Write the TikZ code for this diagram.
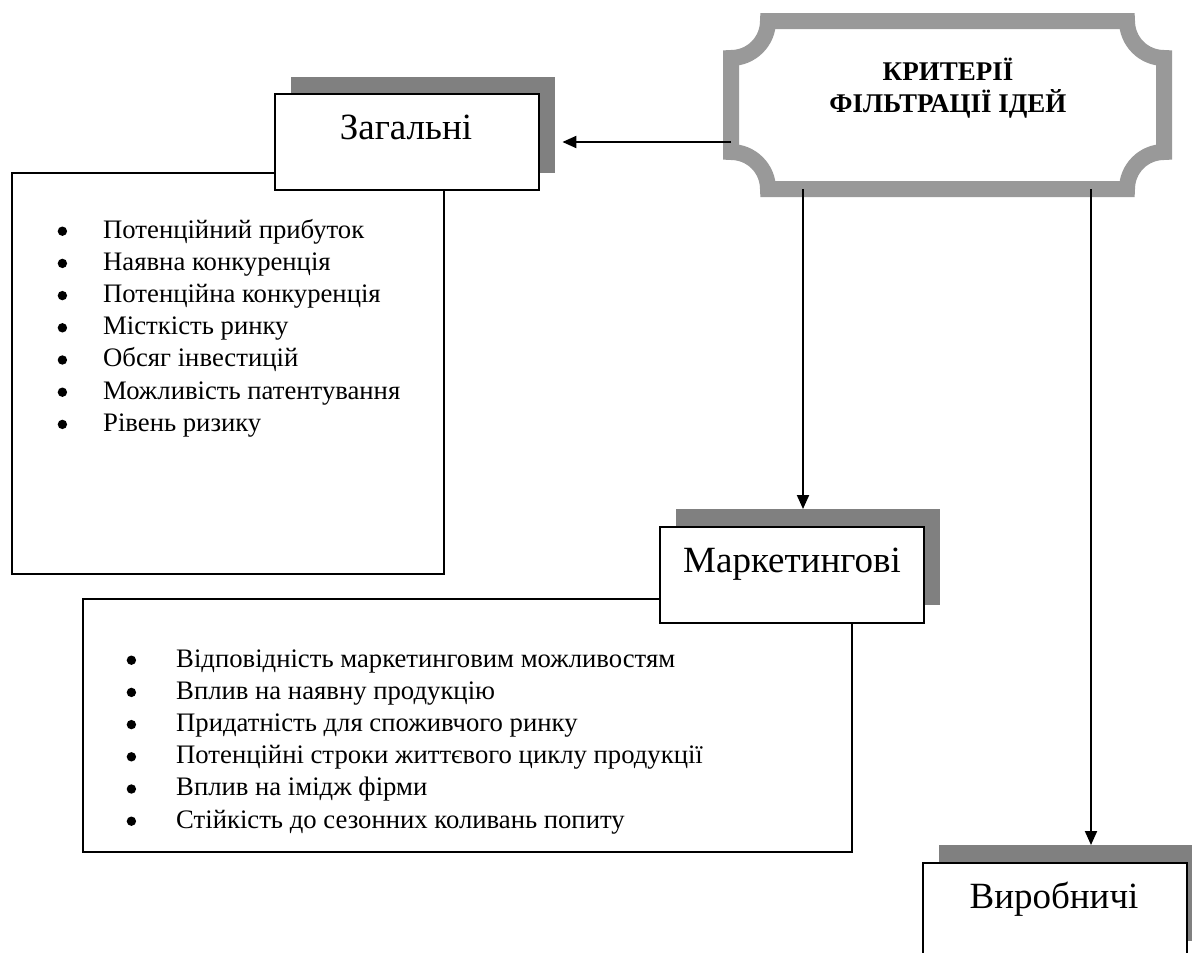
\documentclass[tikz,border=0pt]{standalone}
\usepackage{fontspec}
\setmainfont{Liberation Serif}
\usetikzlibrary{arrows.meta}
% round list bullet, centred a little above the baseline
\newcommand{\blt}{\begin{tikzpicture}[baseline=0pt,x=1pt,y=1pt]\fill (4.5,6.8) circle[radius=4.7];\useasboundingbox (0,0) rectangle (9,1);\end{tikzpicture}}
\begin{document}
\begin{tikzpicture}[x=1pt,y=-1pt,
  box/.style={draw=black,line width=2pt,fill=white,minimum width=264pt,minimum height=96pt,inner sep=0pt,anchor=north west},
  shd/.style={fill=black!50,draw=none,minimum width=264pt,minimum height=96pt,inner sep=0pt,anchor=north west},
  listbox/.style={draw=black,line width=2pt,fill=white,inner sep=0pt,anchor=north west},
  heading/.style={font=\fontsize{37}{40}\selectfont,anchor=base,inner sep=0pt},
  items/.style={font=\fontsize{26.7}{32.2}\selectfont,anchor=base west,inner sep=0pt},
  arr/.style={line width=2pt,-{Triangle[length=14pt,width=12pt]}}]
\useasboundingbox (0,0) rectangle (1192,953);
\clip (0,0) rectangle (1192,953);

% list boxes (drawn first, the heading boxes sit on top of them)
\node[listbox,minimum width=432pt,minimum height=401pt] (genlist) at (11,172) {};
\node[listbox,minimum width=769pt,minimum height=253pt] (mktlist) at (82,598) {};

% shadows
\node[shd] (genshd)  at (291,77)  {};
\node[shd] (mktshd)  at (676,509) {};
\node[shd] (prodshd) at (939,845) {};

% heading boxes
\node[box] (gen)  at (274,93)  {};
\node[box] (mkt)  at (659,526) {};
\node[box,minimum height=140pt] (prod) at (922,862) {};

\node[heading] (genlbl)  at (406,139)  {Загальні};
\node[heading] (mktlbl)  at (792,572)  {Маркетингові};
\node[heading] (prodlbl) at (1054,908) {Виробничі};

% criteria plaque
\node[minimum width=433pt,minimum height=168pt,inner sep=0pt] (crit) at (947.5,105) {};
\draw[line width=16pt,draw=black!40,fill=white]
  (768,21) -- (1127,21) arc[start angle=180,end angle=90,radius=37]
  -- (1164,152) arc[start angle=270,end angle=180,radius=37]
  -- (768,189) arc[start angle=0,end angle=-90,radius=37]
  -- (731,58) arc[start angle=90,end angle=0,radius=37] -- cycle;
\node[font=\bfseries\fontsize{27}{32}\selectfont,align=center,anchor=base,inner sep=0pt]
  (critlbl) at (948,112) {КРИТЕРІЇ\\ФІЛЬТРАЦІЇ ІДЕЙ};

% bullet lists
\node[items] (genitems) at (57.5,238) {\begin{tabular}[t]{@{}p{45.5pt}@{}l@{}}
\blt & Потенційний прибуток\\
\blt & Наявна конкуренція\\
\blt & Потенційна конкуренція\\
\blt & Місткість ринку\\
\blt & Обсяг інвестицій\\
\blt & Можливість патентування\\
\blt & Рівень ризику
\end{tabular}};
\node[items] (mktitems) at (126.5,667) {\begin{tabular}[t]{@{}p{49.5pt}@{}l@{}}
\blt & Відповідність маркетинговим можливостям\\
\blt & Вплив на наявну продукцію\\
\blt & Придатність для споживчого ринку\\
\blt & Потенційні строки життєвого циклу продукції\\
\blt & Вплив на імідж фірми\\
\blt & Стійкість до сезонних коливань попиту
\end{tabular}};

% connectors
\coordinate (cL)  at (731,142);
\coordinate (cB1) at (803,189);
\coordinate (cB2) at (1091,189);
\draw[arr] (cL) -- ([xshift=7pt]genshd.east |- cL);
\draw[arr] (cB1) -- (cB1 |- mktshd.north);
\draw[arr] (cB2) -- (cB2 |- prodshd.north);
\end{tikzpicture}
\end{document}
